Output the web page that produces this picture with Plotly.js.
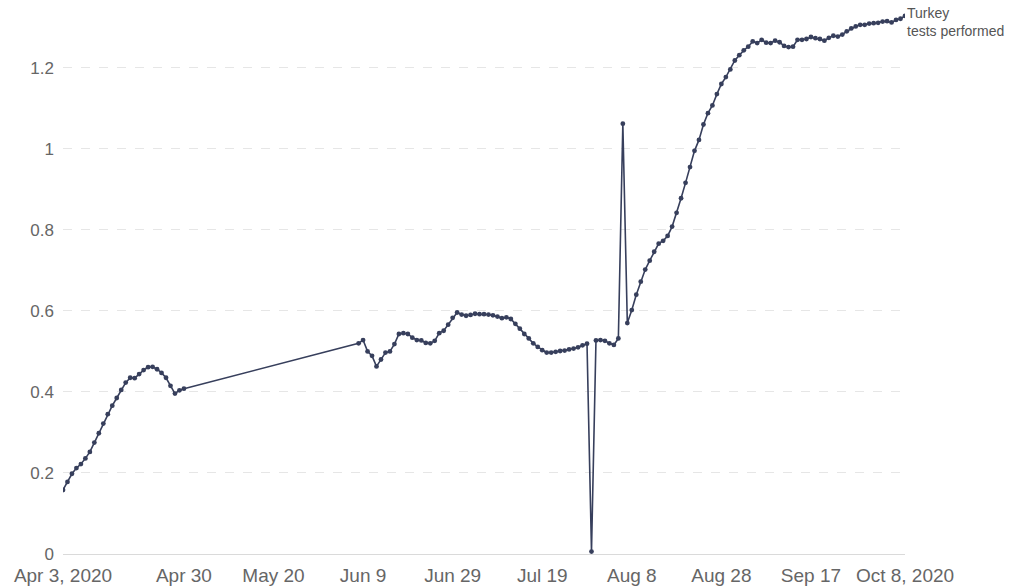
<!DOCTYPE html>
<html>
<head>
<meta charset="utf-8">
<script src="https://cdn.plot.ly/plotly-3.0.1.min.js"></script>
<style>html,body{margin:0;padding:0;background:#fff;}#chart{width:1016px;height:587px;}</style>
</head>
<body>
<div id="chart"></div>
<script>
// Period 1: Apr 3 – Apr 30, 2020 (daily)
const datesA = ["2020-04-03","2020-04-04","2020-04-05","2020-04-06","2020-04-07","2020-04-08","2020-04-09","2020-04-10","2020-04-11","2020-04-12","2020-04-13","2020-04-14","2020-04-15","2020-04-16","2020-04-17","2020-04-18","2020-04-19","2020-04-20","2020-04-21","2020-04-22","2020-04-23","2020-04-24","2020-04-25","2020-04-26","2020-04-27","2020-04-28","2020-04-29","2020-04-30"];
const valuesA = [0.158,0.178,0.198,0.212,0.222,0.236,0.252,0.275,0.298,0.322,0.345,0.366,0.385,0.405,0.423,0.435,0.434,0.444,0.454,0.461,0.462,0.456,0.447,0.435,0.415,0.396,0.404,0.408];

// Period 2: Jun 8 – Oct 8, 2020 (daily)
const startB = "2020-06-08";
const valuesB = [
0.520,0.528,0.500,0.489,0.463,0.480,0.497,0.500,0.518,0.543,
0.545,0.543,0.534,0.528,0.527,0.521,0.520,0.526,0.545,0.551,
0.566,0.583,0.596,0.591,0.588,0.590,0.593,0.592,0.592,0.591,
0.589,0.586,0.582,0.584,0.580,0.568,0.556,0.543,0.532,0.520,
0.511,0.503,0.497,0.497,0.499,0.501,0.502,0.505,0.507,0.510,
0.515,0.519,0.006,0.527,0.528,0.526,0.520,0.516,0.532,1.062,
0.570,0.602,0.640,0.672,0.702,0.724,0.746,0.766,0.773,0.785,
0.808,0.842,0.878,0.916,0.955,0.995,1.022,1.060,1.088,1.107,
1.135,1.160,1.177,1.196,1.218,1.231,1.243,1.252,1.265,1.261,
1.269,1.262,1.261,1.267,1.263,1.254,1.251,1.252,1.269,1.269,
1.271,1.276,1.273,1.271,1.267,1.274,1.279,1.277,1.282,1.290,
1.297,1.302,1.306,1.306,1.309,1.310,1.311,1.314,1.315,1.312,
1.318,1.321,1.328];

const tickDates = ["2020-04-03","2020-04-30","2020-05-20","2020-06-09","2020-06-29","2020-07-19","2020-08-08","2020-08-28","2020-09-17","2020-10-08"];
const tickLabels = ["Apr 3, 2020","Apr 30","May 20","Jun 9","Jun 29","Jul 19","Aug 8","Aug 28","Sep 17","Oct 8, 2020"];
const yTicks = [0,0.2,0.4,0.6,0.8,1,1.2];
const seriesName = "Turkey";
const seriesUnit = "tests performed";

function addDays(iso, n){
  const d = new Date(iso + "T00:00:00Z");
  d.setUTCDate(d.getUTCDate() + n);
  return d.toISOString().slice(0,10);
}
const datesB = valuesB.map((_, i) => addDays(startB, i));

const x = datesA.concat(datesB);
const y = valuesA.concat(valuesB);

const color = "#373f5c";
const trace = {
  x: x, y: y, type: "scatter", mode: "lines+markers",
  line: {color: color, width: 1.6},
  marker: {color: color, size: 4.8},
  hoverinfo: "x+y", showlegend: false
};

const lastX = x[x.length-1], lastY = y[y.length-1];
const layout = {
  width: 1016, height: 587,
  margin: {l: 63, r: 111, t: 7, b: 33},
  paper_bgcolor: "#fff", plot_bgcolor: "#fff",
  font: {family: "Liberation Sans, Arial, sans-serif", color: "#666"},
  xaxis: {
    type: "date", range: ["2020-04-03", "2020-10-08"],
    tickvals: tickDates, ticktext: tickLabels,
    tickfont: {size: 19, color: "#666"},
    showgrid: false, zeroline: false,
    showline: true, linecolor: "#dadada", linewidth: 1,
    ticks: "", ticklabelstandoff: 4, fixedrange: true
  },
  yaxis: {
    range: [0, 1.35], tickvals: yTicks, ticktext: yTicks.map(String),
    tickfont: {size: 17, color: "#666"},
    showgrid: true, gridcolor: "#e6e6e6", griddash: "dash", gridwidth: 1,
    zeroline: false, showline: false, ticks: "", ticklabelstandoff: 8
  },
  annotations: [
    {x: lastX, y: lastY, xref: "x", yref: "y", xanchor: "left", yanchor: "bottom",
     xshift: 1, yshift: -6, showarrow: false, align: "left", borderpad: 0,
     text: seriesName, font: {size: 14, color: "#555"}},
    {x: lastX, y: lastY, xref: "x", yref: "y", xanchor: "left", yanchor: "top",
     xshift: 1, yshift: -6, showarrow: false, align: "left", borderpad: 0,
     text: seriesUnit, font: {size: 14, color: "#555"}}
  ]
};
Plotly.newPlot("chart", [trace], layout, {displayModeBar: false, staticPlot: true});
</script>
</body>
</html>
